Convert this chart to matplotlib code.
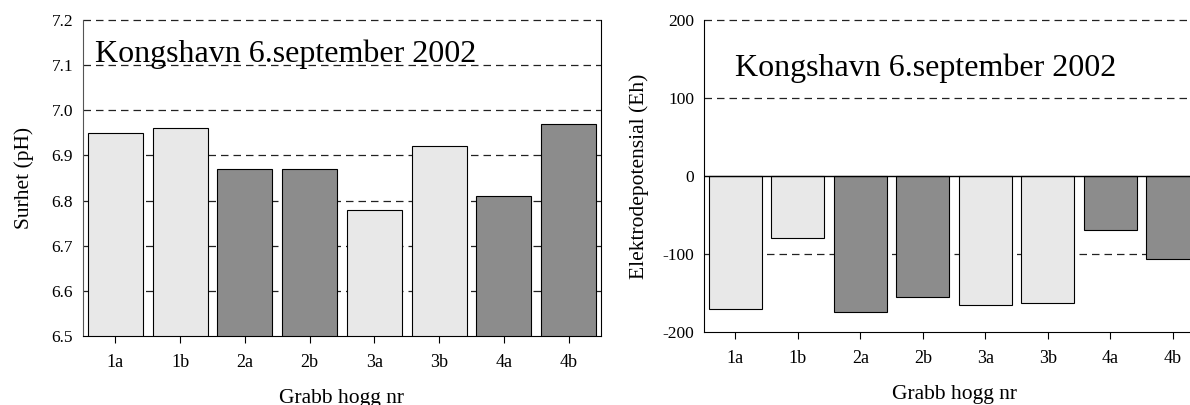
import numpy as np
import matplotlib.pyplot as plt

plt.rcParams['font.family'] = ['Liberation Serif', 'DejaVu Serif']
plt.rcParams['axes.unicode_minus'] = False

grabb = ['1a', '1b', '2a', '2b', '3a', '3b', '4a', '4b']
ph = [6.95, 6.96, 6.87, 6.87, 6.78, 6.92, 6.81, 6.97]
eh = [-170, -80, -174, -155, -165, -163, -69, -106]
light = '#e8e8e8'
dark = '#8c8c8c'
farger = [light, light, dark, dark, light, light, dark, dark]
tittel = 'Kongshavn 6.september 2002'

fig = plt.figure(figsize=(11.9, 4.05), dpi=100)

# venstre: pH
ax1 = fig.add_axes([0.0697, 0.170, 0.4353, 0.781])
x = np.arange(len(grabb))
for yv in [6.6, 6.7, 6.8, 6.9, 7.0, 7.1, 7.2]:
    ax1.axhline(yv, color='#222222', lw=0.9, ls=(0, (6, 4)), zorder=0, clip_on=False)
ax1.bar(x, ph, width=0.85, color=farger, edgecolor='black', lw=0.8, zorder=2)
ax1.set_xlim(-0.5, 7.5)
ax1.set_ylim(6.5, 7.2)
ax1.set_yticks([6.5, 6.6, 6.7, 6.8, 6.9, 7.0, 7.1, 7.2])
ax1.set_yticklabels(['6.5', '6.6', '6.7', '6.8', '6.9', '7.0', '7.1', '7.2'])
ax1.set_xticks(x)
ax1.set_xticklabels(grabb)
ax1.spines['top'].set_visible(False)
ax1.spines['left'].set_color('#555555')
ax1.tick_params(axis='y', length=0, pad=7, labelsize=12.5)
ax1.tick_params(axis='x', length=5, width=0.8, pad=8, labelsize=13)
ax1.set_xlabel('Grabb hogg nr', fontsize=15.5, labelpad=13)
ax1.set_ylabel('Surhet (pH)', fontsize=15.5, labelpad=13)
ax1.text(0.023, 0.867, tittel, transform=ax1.transAxes, fontsize=23,
         ha='left', va='baseline', zorder=3)

# høyre: Eh
ax2 = fig.add_axes([0.5916, 0.180, 0.4202, 0.771])
for yv in [-100, 100, 200]:
    ax2.axhline(yv, color='#222222', lw=0.9, ls=(0, (6, 4)), zorder=0, clip_on=False)
ax2.axhline(0, color='black', lw=1.0, zorder=3)
ax2.bar(x, eh, width=0.85, color=farger, edgecolor='black', lw=0.8, zorder=2)
ax2.set_xlim(-0.5, 7.5)
ax2.set_ylim(-200, 200)
ax2.set_yticks([-200, -100, 0, 100, 200])
ax2.set_xticks(x)
ax2.set_xticklabels(grabb)
ax2.spines['top'].set_visible(False)
ax2.spines['right'].set_visible(False)
ax2.tick_params(axis='y', length=0, pad=7, labelsize=12.5)
ax2.tick_params(axis='x', length=5, width=0.8, pad=8, labelsize=13)
ax2.set_xlabel('Grabb hogg nr', fontsize=15.5, labelpad=13)
ax2.set_ylabel('Elektrodepotensial (Eh)', fontsize=15.5, labelpad=10)
ax2.text(0.062, 0.82, tittel, transform=ax2.transAxes, fontsize=23,
         ha='left', va='baseline', zorder=3)

fig.savefig('out.png', dpi=100)
